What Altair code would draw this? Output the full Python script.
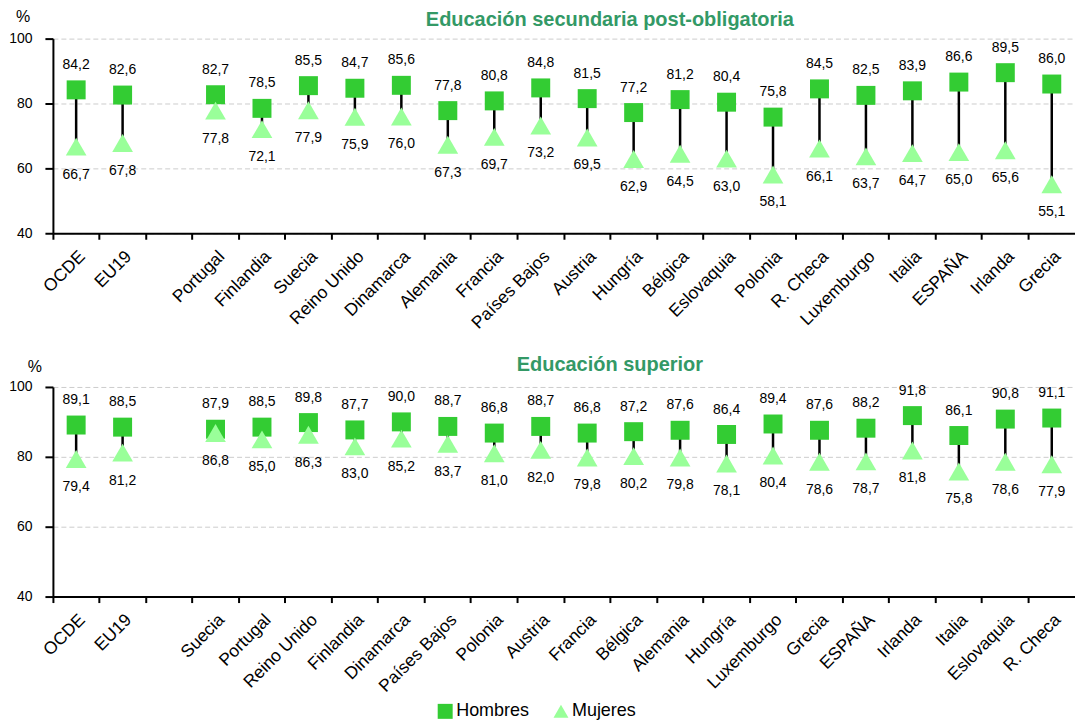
import altair as alt
import pandas as pd

FONT = "Liberation Sans"

# --- Panel 1: Educación secundaria post-obligatoria ---
title_sec = "Educación secundaria post-obligatoria"
cats_sec = ["OCDE", "EU19", "Portugal", "Finlandia", "Suecia", "Reino Unido", "Dinamarca",
            "Alemania", "Francia", "Países Bajos", "Austria", "Hungría", "Bélgica",
            "Eslovaquia", "Polonia", "R. Checa", "Luxemburgo", "Italia", "ESPAÑA",
            "Irlanda", "Grecia"]
hombres_sec = [84.2, 82.6, 82.7, 78.5, 85.5, 84.7, 85.6, 77.8, 80.8, 84.8, 81.5, 77.2,
               81.2, 80.4, 75.8, 84.5, 82.5, 83.9, 86.6, 89.5, 86.0]
mujeres_sec = [66.7, 67.8, 77.8, 72.1, 77.9, 75.9, 76.0, 67.3, 69.7, 73.2, 69.5, 62.9,
               64.5, 63.0, 58.1, 66.1, 63.7, 64.7, 65.0, 65.6, 55.1]

# --- Panel 2: Educación superior ---
title_sup = "Educación superior"
cats_sup = ["OCDE", "EU19", "Suecia", "Portugal", "Reino Unido", "Finlandia", "Dinamarca",
            "Países Bajos", "Polonia", "Austria", "Francia", "Bélgica", "Alemania",
            "Hungría", "Luxemburgo", "Grecia", "ESPAÑA", "Irlanda", "Italia",
            "Eslovaquia", "R. Checa"]
hombres_sup = [89.1, 88.5, 87.9, 88.5, 89.8, 87.7, 90.0, 88.7, 86.8, 88.7, 86.8, 87.2,
               87.6, 86.4, 89.4, 87.6, 88.2, 91.8, 86.1, 90.8, 91.1]
mujeres_sup = [79.4, 81.2, 86.8, 85.0, 86.3, 83.0, 85.2, 83.7, 81.0, 82.0, 79.8, 80.2,
               79.8, 78.1, 80.4, 78.6, 78.7, 81.8, 75.8, 78.6, 77.9]

series = ["Hombres", "Mujeres"]
colors = ["#33CC33", "#99FF99"]
shapes = ["square", "triangle-up"]
marker_sizes = [361, 430]
y_ticks = [40, 60, 80, 100]

W = 1024


def fmt(v):
    return f"{v:.1f}".replace(".", ",")


def panel(title, cats, h, m, height, title_dy, pct_x, pct_y, show_legend):
    domain = cats[:2] + [" "] + cats[2:]
    wide = pd.DataFrame({"cat": cats, "h": h, "m": m,
                         "hl": [fmt(v) for v in h], "ml": [fmt(v) for v in m]})
    ser = [series[0]] * len(cats) + [series[1]] * len(cats)
    long = pd.DataFrame({"cat": cats * 2, "v": h + m, "serie": ser})

    xs = alt.Scale(domain=domain, paddingInner=0, paddingOuter=0)
    ys = alt.Scale(domain=[40, 100], nice=False)

    x_ticks = alt.X("cat:N", scale=xs, title=None, sort=domain,
                    axis=alt.Axis(orient="bottom", bandPosition=0, labels=False, ticks=True,
                                  tickSize=6, tickWidth=2, tickColor="black",
                                  domain=True, domainWidth=2, domainColor="black", grid=False))
    x_labels = alt.X("cat:N", scale=xs, title=None, sort=domain,
                     axis=alt.Axis(orient="bottom", labelAngle=-45, labelFontSize=17.5,
                                   labelFont=FONT, labelColor="black", ticks=False,
                                   domain=False, grid=False, labelPadding=14,
                                   labelOverlap=False))
    x_none = alt.X("cat:N", scale=xs, title=None, sort=domain, axis=None)
    y_axis = alt.Y("h:Q", scale=ys, title=None,
                   axis=alt.Axis(values=y_ticks, tickSize=8, tickWidth=2, tickColor="black",
                                 domainWidth=2, domainColor="black", labelFontSize=14,
                                 labelFont=FONT, labelColor="black", labelPadding=13,
                                 grid=True, gridColor="#CCCCCC", gridDash=[5, 3],
                                 gridWidth=1))

    legend = alt.Legend(orient="none", direction="horizontal", legendX=384, legendY=height + 106,
                        labelFontSize=18, labelFont=FONT, labelColor="black", symbolSize=225,
                        symbolOpacity=1, columnPadding=22, labelOffset=2,
                        padding=0) if show_legend else None

    color = alt.Color("serie:N", scale=alt.Scale(domain=series, range=colors), title=None,
                      legend=legend)
    shape = alt.Shape("serie:N", scale=alt.Scale(domain=series, range=shapes), title=None,
                      legend=legend)

    base = alt.Chart(wide)
    rule = base.mark_rule(color="black", strokeWidth=2.5).encode(
        x=x_ticks, y=y_axis, y2="m:Q")
    layers_pts = []
    for s, sz in zip(series, marker_sizes):
        layers_pts.append(
            alt.Chart(long).transform_filter(alt.datum.serie == s)
            .mark_point(filled=True, opacity=1, size=sz)
            .encode(x=x_labels if s == series[0] else x_none,
                    y=alt.Y("v:Q", scale=ys), color=color, shape=shape))
    top = base.mark_text(fontSize=14, font=FONT, color="black", dy=-25).encode(
        x=x_none, y=alt.Y("h:Q", scale=ys), text="hl:N")
    bot = base.mark_text(fontSize=14, font=FONT, color="black", dy=28).encode(
        x=x_none, y=alt.Y("m:Q", scale=ys), text="ml:N")
    ttl = alt.Chart(pd.DataFrame({"t": [title]})).mark_text(
        fontSize=20, font=FONT, fontWeight="bold", color="#339966").encode(
        x=alt.value(558), y=alt.value(title_dy), text="t:N")
    pct = alt.Chart(pd.DataFrame({"t": ["%"]})).mark_text(
        fontSize=16, font=FONT, color="black").encode(
        x=alt.value(pct_x), y=alt.value(pct_y), text="t:N")

    return alt.layer(rule, *layers_pts, top, bot, ttl, pct).resolve_axis(
        x="independent").properties(width=W, height=height)


p1 = panel(title_sec, cats_sec, hombres_sec, mujeres_sec, 195, -19, -30, -22, False)
p2 = panel(title_sup, cats_sup, hombres_sup, mujeres_sup, 210, -22, -18, -20, True)

chart = alt.vconcat(p1, p2, spacing=23).resolve_scale(
    color="independent", shape="independent").properties(
    padding={"left": 0, "top": 0, "right": 0, "bottom": 0}
).configure_view(stroke=None).configure_legend(
    symbolStrokeWidth=0
)

chart.save("out.html", embed_options={"renderer": "svg", "actions": False})
